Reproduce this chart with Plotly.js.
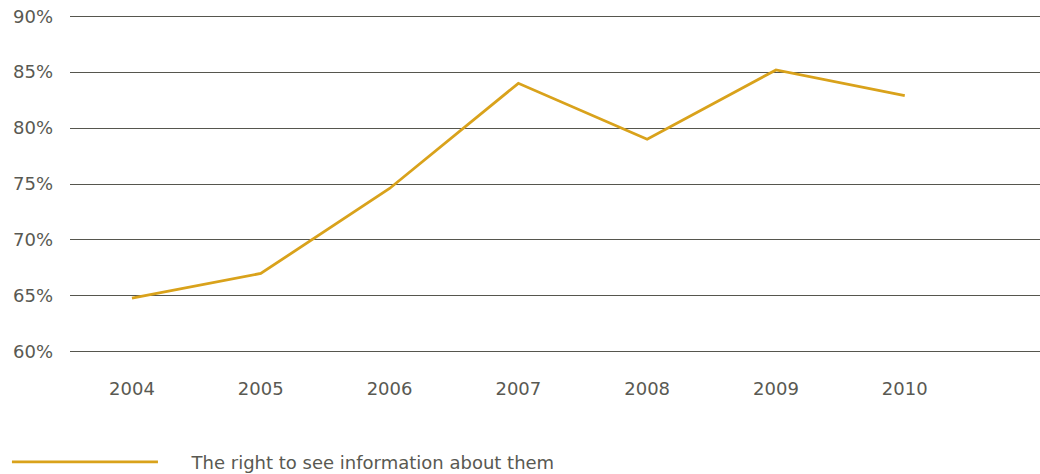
<!DOCTYPE html>
<html>
<head>
<meta charset="utf-8">
<script src="https://cdn.plot.ly/plotly-3.0.1.min.js"></script>
<style>html,body{margin:0;padding:0;background:#fff;}#chart{width:1040px;height:474px;}</style>
</head>
<body>
<div id="chart"></div>
<script>
const years = ['2004','2005','2006','2007','2008','2009','2010'];
const rightToSee = [64.8, 67.0, 74.6, 84.0, 79.0, 85.2, 82.9];
const seriesName = 'The right to see information about them';
const yTicks = [60, 65, 70, 75, 80, 85, 90];
const yTickLabels = ['60%', '65%', '70%', '75%', '80%', '85%', '90%'];

const pad = '\u00a0\u00a0\u00a0\u00a0\u00a0';

const trace = {
  x: years,
  y: rightToSee,
  type: 'scatter',
  mode: 'lines',
  name: pad + seriesName,
  line: {color: '#D9A21B', width: 2.8},
  showlegend: true
};

const layout = {
  width: 1040,
  height: 474,
  margin: {l: 70, r: 0, t: 14, b: 120, autoexpand: false},
  paper_bgcolor: '#ffffff',
  plot_bgcolor: '#ffffff',
  font: {family: 'DejaVu Sans, Verdana, sans-serif', size: 18, color: '#595952'},
  xaxis: {
    type: 'category',
    range: [-0.481, 7.05],
    showgrid: false,
    showline: false,
    zeroline: false,
    ticks: '',
    ticklabelstandoff: 22,
    tickfont: {size: 18, color: '#595952'}
  },
  yaxis: {
    range: [59.8, 90.2],
    tickvals: yTicks,
    ticktext: yTickLabels,
    showgrid: true,
    gridcolor: '#56564e',
    gridwidth: 1,
    zeroline: false,
    showline: false,
    ticks: '',
    ticklabelstandoff: 16,
    tickfont: {size: 18, color: '#595952'}
  },
  showlegend: true,
  legend: {
    orientation: 'h',
    x: -0.065,
    xanchor: 'left',
    y: -0.264,
    yanchor: 'top',
    itemwidth: 146,
    font: {size: 18, color: '#595952'},
    bgcolor: 'rgba(0,0,0,0)'
  }
};

Plotly.newPlot('chart', [trace], layout, {displayModeBar: false, staticPlot: true});
</script>
</body>
</html>
